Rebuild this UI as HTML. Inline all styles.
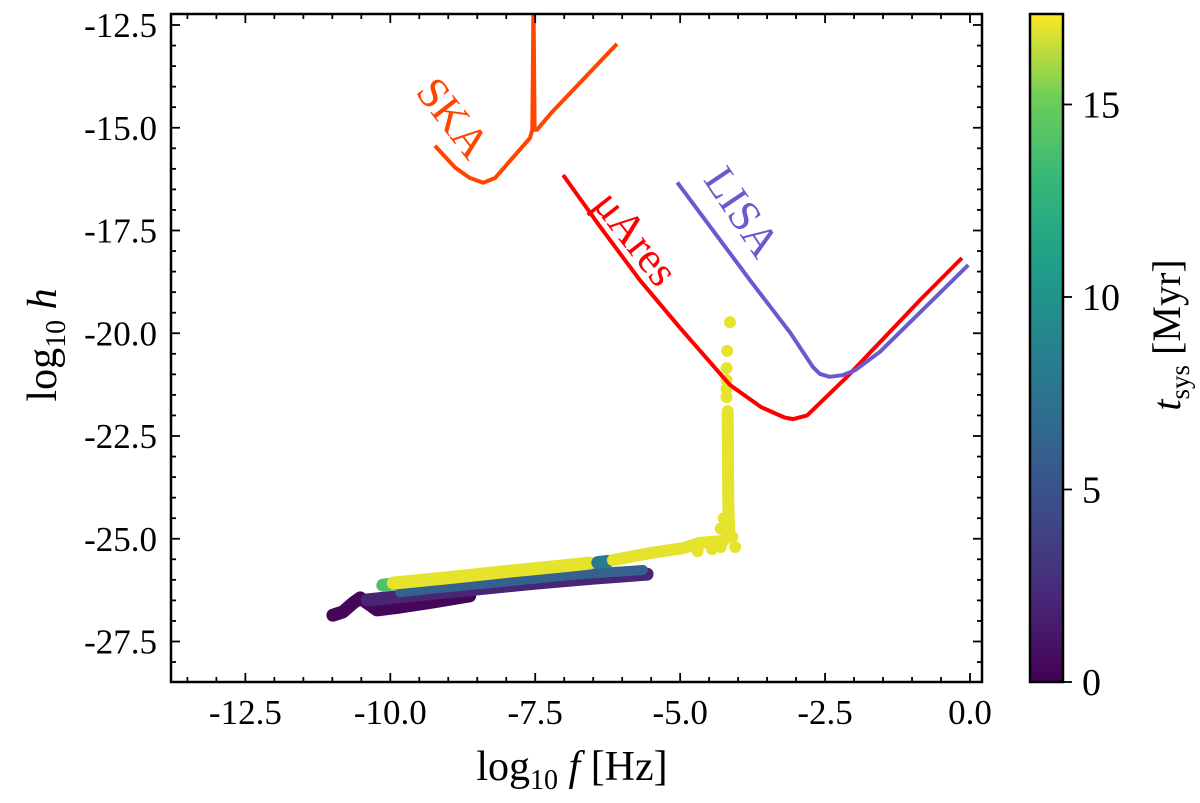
<!DOCTYPE html>
<html><head><meta charset="utf-8"><style>
body{margin:0;background:#fff;}
svg text{font-family:"Liberation Serif",serif;}
</style></head><body>
<svg id="chart" width="1200" height="798" viewBox="0 0 1200 798" xmlns="http://www.w3.org/2000/svg">
<defs>
<linearGradient id="vir" x1="0" y1="1" x2="0" y2="0">
<stop offset="0" stop-color="#440154"/><stop offset="0.125" stop-color="#482878"/><stop offset="0.25" stop-color="#3e4989"/><stop offset="0.375" stop-color="#31688e"/><stop offset="0.5" stop-color="#26828e"/><stop offset="0.625" stop-color="#1f9e89"/><stop offset="0.75" stop-color="#35b779"/><stop offset="0.875" stop-color="#6ece58"/><stop offset="1" stop-color="#fde725"/>
</linearGradient>
<clipPath id="plotclip"><rect x="171" y="14" width="811" height="668"/></clipPath>
</defs>
<g id="plot" clip-path="url(#plotclip)"></g>
<g id="axes"></g>
</svg>
<script>
const xTicks=[-12.5,-10.0,-7.5,-5.0,-2.5,0.0];
const yTicks=[-12.5,-15.0,-17.5,-20.0,-22.5,-25.0,-27.5];
const cbTicks=[0,5,10,15];
const skaF=[-9.23,-8.88,-8.63,-8.40,-8.19,-7.59,-7.55,-7.53,-7.51,-7.47,-7.21,-6.09];
const skaH=[-15.44,-15.97,-16.22,-16.34,-16.22,-15.25,-15.05,-11.9,-15.05,-15.05,-14.62,-12.96];
const aresF=[-7.02,-6.38,-5.7,-5.0,-4.14,-3.6,-3.2,-3.05,-2.81,-2.12,-0.86,-0.14];
const aresH=[-16.15,-17.41,-18.7,-19.87,-21.26,-21.8,-22.05,-22.09,-22.0,-21.06,-19.19,-18.17];
const lisaF=[-5.05,-3.8,-3.1,-2.71,-2.59,-2.42,-2.2,-1.98,-1.55,-0.03];
const lisaH=[-16.33,-18.7,-19.99,-20.82,-20.99,-21.06,-21.02,-20.9,-20.45,-18.34];
const darkF=[-10.99,-10.82,-10.64,-10.52,-10.23,-9.83,-9.26,-8.63];
const darkH=[-26.86,-26.78,-26.56,-26.44,-26.73,-26.66,-26.54,-26.39];
const darkT=0.3;
const purpF=[-10.40,-9.5,-8.5,-7.5,-6.5,-5.57];
const purpH=[-26.49,-26.36,-26.22,-26.08,-25.96,-25.86];
const purpT=2;
const blueF=[-9.83,-9.0,-8.0,-7.0,-6.3,-5.64];
const blueH=[-26.30,-26.18,-26.04,-25.90,-25.82,-25.76];
const blueT=6;
const greenF=[-10.13,-9.95];
const greenH=[-26.13,-26.10];
const greenT=14;
const yelF=[-9.95,-8.95,-7.95,-6.95,-6.56];
const yelH=[-26.08,-25.94,-25.79,-25.65,-25.59];
const tealF=[-6.42,-6.25];
const tealH=[-25.58,-25.55];
const tealT=8;
const yel2F=[-6.16,-5.52,-4.95,-4.66,-4.25,-4.15,-4.17,-4.18];
const yel2H=[-25.52,-25.35,-25.23,-25.10,-25.05,-24.9,-24.2,-21.9];
const yelT=17;
const dotF=[-4.14,-4.19,-4.2,-4.2,-4.2,-4.2,-4.25,-4.3,-4.1,-4.05,-4.3,-4.45,-4.7];
const dotH=[-19.73,-20.43,-20.85,-21.14,-21.35,-21.55,-24.5,-24.75,-24.95,-25.2,-25.2,-25.25,-25.3];
const tMax=17.35;

const X=v=>970+57.97*v, Y=v=>25+(-12.5-v)*41.1, CB=t=>682-t*(668/tMax);
const NS="http://www.w3.org/2000/svg";
const plot=document.getElementById('plot'), axes=document.getElementById('axes');
function mk(tag,attrs,parent){const e=document.createElementNS(NS,tag);for(const k in attrs)e.setAttribute(k,attrs[k]);parent.appendChild(e);return e;}
function vir(t){const s=[[0,[68,1,84]],[.125,[72,40,120]],[.25,[62,73,137]],[.375,[49,104,142]],[.5,[38,130,142]],[.625,[31,158,137]],[.75,[53,183,121]],[.875,[110,206,88]],[1,[253,231,37]]];
 const u=Math.max(0,Math.min(1,t/tMax));for(let i=1;i<s.length;i++){if(u<=s[i][0]){const a=s[i-1],b=s[i],k=(u-a[0])/(b[0]-a[0]);return 'rgb('+a[1].map((c,j)=>Math.round(c+(b[1][j]-c)*k)).join(',')+')';}}return 'rgb(253,231,37)';}
function pts(F,H){return F.map((f,i)=>X(f).toFixed(1)+','+Y(H[i]).toFixed(1)).join(' ');}
function band(F,H,t,w,name){const p=mk('polyline',{points:pts(F,H),fill:'none',stroke:vir(t),'stroke-width':w,'stroke-linecap':'round','stroke-linejoin':'round'},plot);

}
band(darkF,darkH,darkT,13,'scatter-band-early');
band(purpF,purpH,purpT,13,'scatter-band-purple');
band(blueF,blueH,blueT,10,'scatter-band-blue');
band(greenF,greenH,greenT,13,'scatter-band-green');
band(yelF,yelH,yelT,13,'scatter-band-yellow');
band(tealF,tealH,tealT,13,'scatter-band-teal');
band(yel2F,yel2H,yelT,12,'scatter-band-yellow-late');
dotF.forEach((f,i)=>{const c=mk('circle',{cx:X(f),cy:Y(dotH[i]),r:6,fill:vir(yelT)},plot);

});
function curve(F,H,col,name){const p=mk('polyline',{points:pts(F,H),fill:'none',stroke:col,'stroke-width':4,'stroke-linejoin':'round'},plot);

}
curve(skaF,skaH,'#ff4500','ska-curve');
curve(aresF,aresH,'#ff0000','mu-ares-curve');
curve(lisaF,lisaH,'#6a5acd','lisa-curve');
function lab(txt,x,y,rot,col,name){const t=mk('text',{x:x,y:y,fill:col,'font-size':44,'text-anchor':'middle','dominant-baseline':'central',transform:`rotate(${rot} ${x} ${y})`},plot);t.textContent=txt;

}
lab('SKA',453,118,52,'#ff4500','ska-label');
lab('\u03bcAres',636,238,52,'#ff0000','mu-ares-label');
lab('LISA',742,212,56,'#6a5acd','lisa-label');
const fr=mk('rect',{x:171,y:14,width:811,height:668,fill:'none',stroke:'#000','stroke-width':2.5},axes);


for(let v=-13.5;v<=0.01;v+=0.5){const x=X(v),L=Math.abs(v/2.5-Math.round(v/2.5))<1e-6?9:5;
 mk('line',{x1:x,y1:682,x2:x,y2:682-L,stroke:'#000','stroke-width':1.8},axes);mk('line',{x1:x,y1:14,x2:x,y2:14+L,stroke:'#000','stroke-width':1.8},axes);}
for(let v=-12.5;v>=-28.01;v-=0.5){const y=Y(v),L=Math.abs(v/2.5-Math.round(v/2.5))<1e-6?9:5;
 mk('line',{x1:171,y1:y,x2:171+L,y2:y,stroke:'#000','stroke-width':1.8},axes);mk('line',{x1:982,y1:y,x2:982-L,y2:y,stroke:'#000','stroke-width':1.8},axes);}
xTicks.forEach(v=>{const t=mk('text',{x:X(v),y:724,'font-size':35,'text-anchor':'middle'},axes);t.textContent=v.toFixed(1);

});
yTicks.forEach(v=>{const t=mk('text',{x:157,y:Y(v)+12,'font-size':35,'text-anchor':'end'},axes);t.textContent=v.toFixed(1);

});
const xt=mk('text',{x:572,y:780,'font-size':42,'text-anchor':'middle'},axes);
xt.innerHTML='log<tspan font-size="28" dy="9">10</tspan><tspan dy="-9" font-style="italic"> f</tspan> [Hz]';


const yt=mk('text',{x:0,y:0,'font-size':42,'text-anchor':'middle',transform:'translate(56 345) rotate(-90)'},axes);
yt.innerHTML='log<tspan font-size="28" dy="9">10</tspan><tspan dy="-9" font-style="italic"> h</tspan>';


const cb=mk('rect',{x:1030,y:14,width:33,height:668,fill:'url(#vir)',stroke:'#000','stroke-width':2.5},axes);


cbTicks.forEach(t=>{const y=CB(t);mk('line',{x1:1063,y1:y,x2:1072,y2:y,stroke:'#000','stroke-width':1.8},axes);
 const l=mk('text',{x:1082,y:y+13,'font-size':38},axes);l.textContent=t;

});
const ct=mk('text',{x:0,y:0,'font-size':40,'text-anchor':'middle',transform:'translate(1180 335) rotate(-90)'},axes);
ct.innerHTML='<tspan font-style="italic">t</tspan><tspan font-size="27" dy="9">sys</tspan><tspan dy="-9"> [Myr]</tspan>';


</script>
</body></html>
